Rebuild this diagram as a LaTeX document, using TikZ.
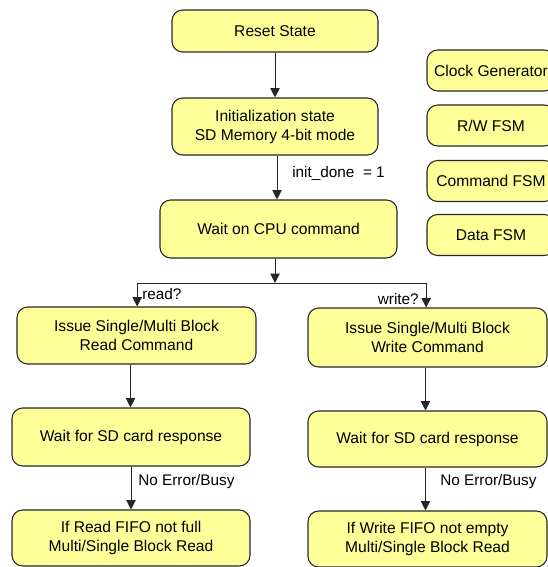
\documentclass[tikz,border=0pt]{standalone}
\usepackage{fontspec}
\setmainfont{Liberation Sans}
\usepackage{xcolor}
\usetikzlibrary{arrows.meta}

\definecolor{stateyellow}{RGB}{255,255,153}

\tikzset{
  state/.style={draw=black!85, fill=stateyellow, line width=0.8pt, rounded corners=8pt,
    align=center, inner sep=2pt, font=\fontsize{11.7}{14.25}\selectfont},
  flow/.style={-{Triangle[length=7pt,width=7pt]}, line width=0.75pt, draw=black!85},
  lbl/.style={font=\fontsize{11.5}{14}\selectfont, inner sep=0pt}
}

\begin{document}
\begin{tikzpicture}[x=0.75pt, y=-0.75pt]
            \useasboundingbox (0,0) rectangle (548,567);

            % draw main states
            \node[state, minimum width=154.5pt, minimum height=31.5pt] (reset) at (275, 31) {Reset State};
            \node[state, minimum width=154.5pt, minimum height=42.75pt] (init) at (275, 126.5) {Initialization state\\SD Memory 4-bit mode};
            \node[state, minimum width=177.75pt, minimum height=43.5pt] (wait) at (278.5, 229) {Wait on CPU command};

            % draw side blocks
            \node[state, minimum width=96pt, minimum height=30.75pt] (clock) at (491, 70.5) {Clock Generator};
            \node[state, minimum width=96pt, minimum height=30.75pt] (rwfsm) at (491, 125.5) {R/W FSM};
            \node[state, minimum width=96pt, minimum height=30.75pt] (cmdfsm) at (491, 181) {Command FSM};
            \node[state, minimum width=96pt, minimum height=30.75pt] (datafsm) at (491, 235) {Data FSM};

            % draw read branch
            \node[state, minimum width=179.25pt, minimum height=42.75pt] (issueread) at (136.5, 335.5) {Issue Single/Multi Block\\Read Command};
            \node[state, minimum width=178.5pt, minimum height=43.5pt] (respread) at (131, 437) {Wait for SD card response};
            \node[state, minimum width=178.5pt, minimum height=42pt] (fiforead) at (131, 538) {If Read FIFO not full\\Multi/Single Block Read};

            % draw write branch
            \node[state, minimum width=179.25pt, minimum height=44.25pt] (issuewrite) at (427.5, 337.5) {Issue Single/Multi Block\\Write Command};
            \node[state, minimum width=179.25pt, minimum height=42pt] (respwrite) at (427.5, 439) {Wait for SD card response};
            \node[state, minimum width=179.25pt, minimum height=42pt] (fifowrite) at (427.5, 539) {If Write FIFO not empty\\Multi/Single Block Read};

            % draw transitions
            \draw[flow] (reset.south) -- (init.north);
            \draw[flow] ([xshift=1.5pt]init.south) -- ([xshift=1.5pt]init.south |- wait.north);
            \node[lbl, anchor=west] (initdone) at (292, 173) {init\_done\ \ = 1};

            \coordinate (fork) at (275, 283);
            \draw[flow] (wait.south -| fork) -- (fork);
            \draw[flow] (fork) -| ([xshift=0.5pt]issueread.north);
            \draw[flow] (fork) -| ([xshift=-1pt]issuewrite.north);
            \node[lbl, anchor=west] (readq) at (142, 294) {read?};
            \node[lbl, anchor=east] (writeq) at (419, 299) {write?};

            \draw[flow] ([xshift=-4.5pt]issueread.north |- issueread.south) -- ([xshift=-4.5pt]issueread.north |- respread.north);
            \draw[flow] (respread.south) -- (fiforead.north);
            \node[lbl, anchor=west] (noerrread) at (138, 482) {No Error/Busy};

            \draw[flow] ([xshift=-1.5pt]issuewrite.south) -- ([xshift=-1.5pt]issuewrite.south |- respwrite.north);
            \draw[flow] ([xshift=-1.5pt]respwrite.south) -- ([xshift=-1.5pt]respwrite.south |- fifowrite.north);
            \node[lbl, anchor=west] (noerrwrite) at (440, 482) {No Error/Busy};
        \end{tikzpicture}
\end{document}
